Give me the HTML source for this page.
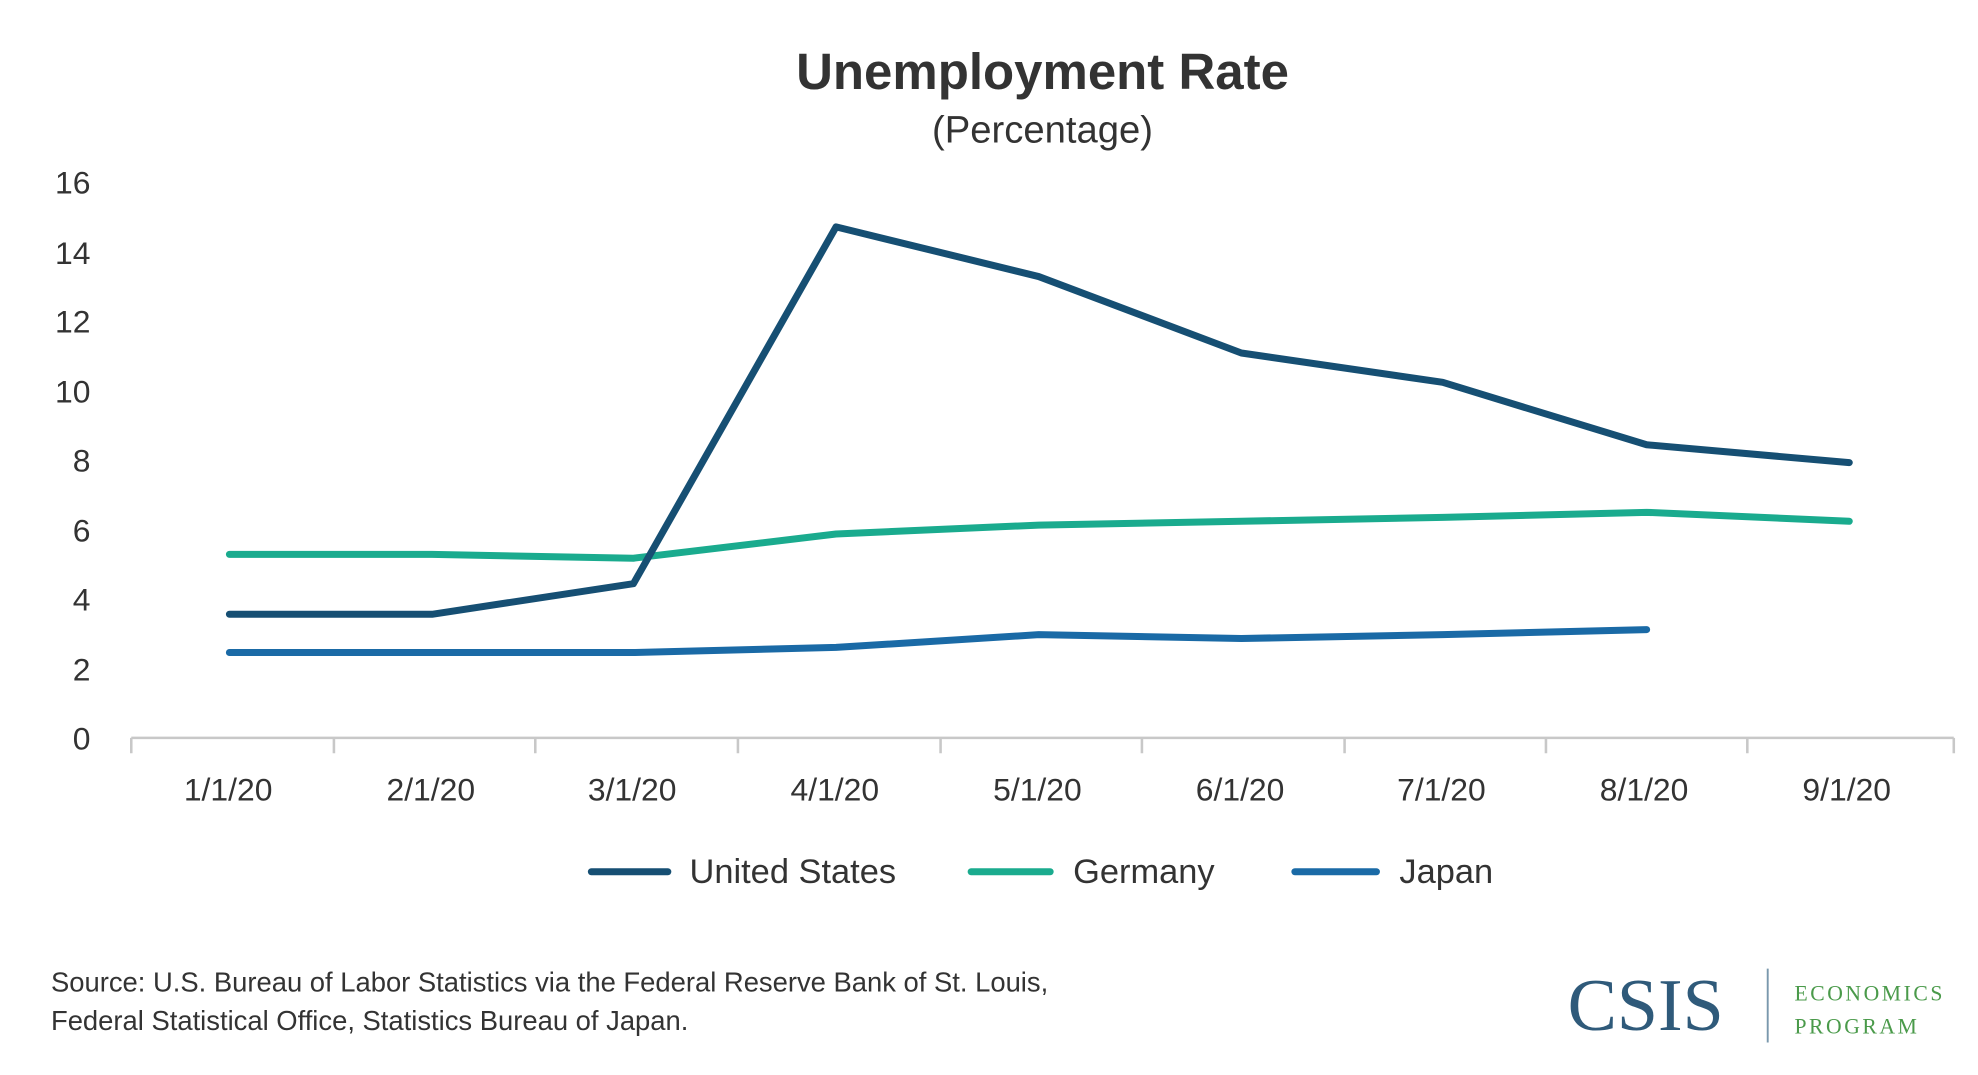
<!DOCTYPE html>
<html><head><meta charset="utf-8"><style>
html,body{margin:0;padding:0;background:#fff;}
svg{display:block;}
text{font-family:"Liberation Sans",sans-serif;fill:#333;}
</style></head><body>
<svg width="1978" height="1075" viewBox="0 0 1552 843.5" preserveAspectRatio="none" xmlns="http://www.w3.org/2000/svg">
<text x="818" y="70" font-size="40" font-weight="bold" text-anchor="middle" fill="#333">Unemployment Rate</text>
<text x="818" y="112" font-size="30" text-anchor="middle">(Percentage)</text>
<g font-size="25" text-anchor="end">
<text x="71" y="588">0</text><text x="71" y="534">2</text><text x="71" y="479">4</text><text x="71" y="425">6</text><text x="71" y="370">8</text><text x="71" y="316">10</text><text x="71" y="261">12</text><text x="71" y="207">14</text><text x="71" y="152">16</text>
</g>
<g stroke="#c8c8c8" stroke-width="2" fill="none">
<line x1="103" y1="579" x2="1533" y2="579"/>
<path d="M103 579v12M262 579v12M420 579v12M579 579v12M738 579v12M896 579v12M1055 579v12M1213 579v12M1371 579v12M1533 579v12"/>
</g>
<g font-size="25" text-anchor="middle">
<text x="179" y="628">1/1/20</text><text x="338" y="628">2/1/20</text><text x="496" y="628">3/1/20</text><text x="655" y="628">4/1/20</text><text x="814" y="628">5/1/20</text><text x="973" y="628">6/1/20</text><text x="1131" y="628">7/1/20</text><text x="1290" y="628">8/1/20</text><text x="1449" y="628">9/1/20</text>
</g>
<g fill="none" stroke-width="5.5" stroke-linecap="round" stroke-linejoin="round">
<polyline stroke="#1a6aa6" points="180,512 339,512 497,512 656,508 815,498 974,501 1132,498 1292,494"/>
<polyline stroke="#1aab8e" points="180,435 339,435 497,438 656,419 815,412 974,409 1132,406 1292,402 1451,409"/>
<polyline stroke="#164f73" points="180,482 339,482 497,458 656,178 815,217 974,277 1132,300 1292,349 1451,363"/>
</g>
<g stroke-width="5.5" stroke-linecap="round">
<line x1="464" y1="684" x2="524" y2="684" stroke="#164f73"/>
<line x1="762" y1="684" x2="824" y2="684" stroke="#1aab8e"/>
<line x1="1016" y1="684" x2="1080" y2="684" stroke="#1a6aa6"/>
</g>
<g font-size="27">
<text x="541" y="693">United States</text>
<text x="842" y="693">Germany</text>
<text x="1098" y="693">Japan</text>
</g>
<g font-size="21.5">
<text x="40" y="778">Source: U.S. Bureau of Labor Statistics via the Federal Reserve Bank of St. Louis,</text>
<text x="40" y="808">Federal Statistical Office, Statistics Bureau of Japan.</text>
</g>
<text x="1230" y="808" font-family="Liberation Serif,serif" font-size="58" style="fill:#2f5a7a;font-family:'Liberation Serif',serif">CSIS</text>
<line x1="1387" y1="760" x2="1387" y2="818" stroke="#7a98ad" stroke-width="1.5"/>
<text x="1408" y="785" font-size="17" letter-spacing="2" style="fill:#4a9a4a;font-family:'Liberation Serif',serif">ECONOMICS</text>
<text x="1408" y="811" font-size="17" letter-spacing="2" style="fill:#4a9a4a;font-family:'Liberation Serif',serif">PROGRAM</text>
</svg>
</body></html>
